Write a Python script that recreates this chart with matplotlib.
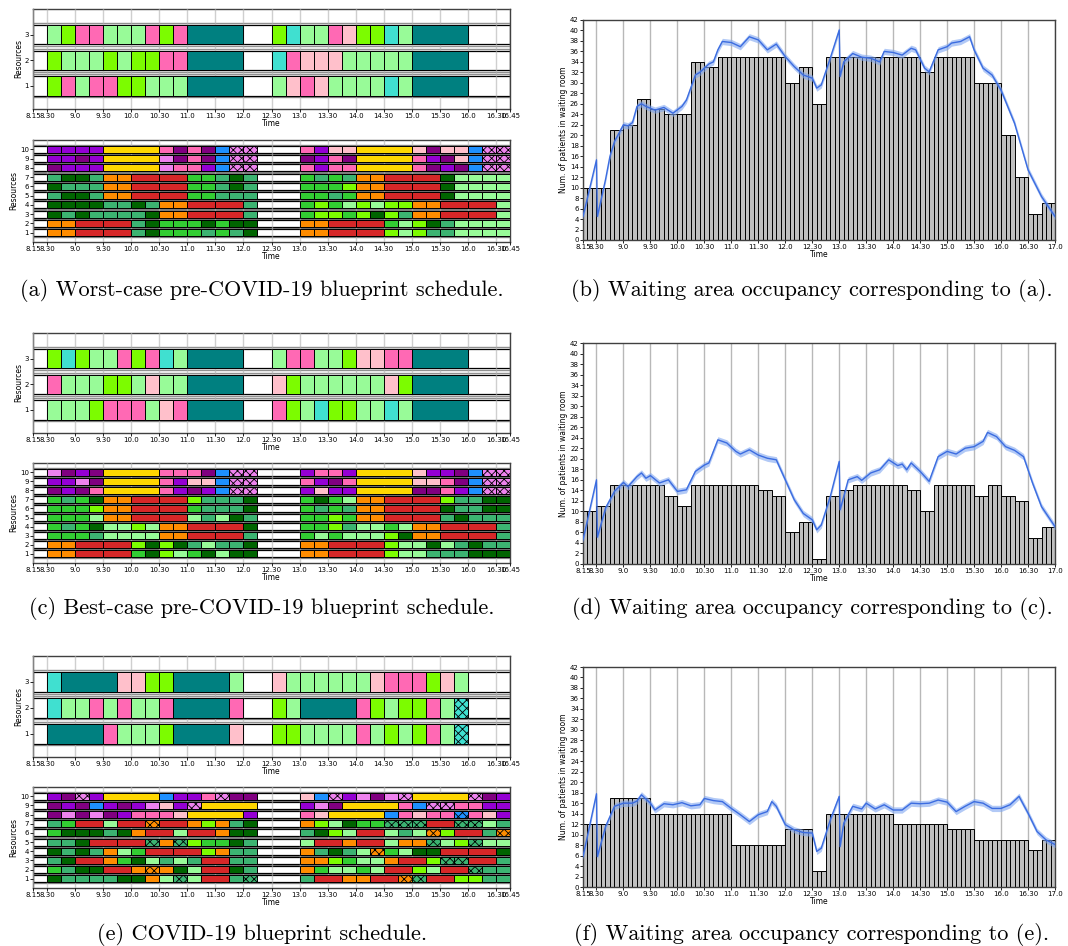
import numpy as np
import matplotlib
matplotlib.use("Agg")
import matplotlib.pyplot as plt

plt.rcParams['hatch.linewidth'] = 0.6

# colour codes used in the schedules (lower case = hatched)
COLORS = {
    'L': '#98fb98', 'W': '#7cfc00', 'H': '#ff69b4', 'P': '#ffc0cb',
    'T': '#40e0d0', 'E': '#008080', 'V': '#9400d3', 'U': '#800080',
    'Y': '#ffd700', 'I': '#ee82ee', 'B': '#1e90ff', 'S': '#3cb371',
    'D': '#006400', 'M': '#32cd32', 'O': '#ff8c00', 'R': '#d62728',
}

# ---- schedules: one string per resource (resource 1 first), 15 min cells from 8.30
worst_res = [
    "W H L H H W W L L L E4 -2 L P H P L L L L T L E4",
    "W L L L W L W W H H E4 -2 T H P P P L L L L L E4",
    "L W H H L L L H W H E4 -2 W T L L H P W W T L E4",
]
worst_staff = [
    "O O R2 R2 S D M M M S M S D -3 O O R2 R2 W L W S S L L L L",
    "O O R2 R2 S D M M M D M D D -3 O O R2 R2 M L W D S L L L L",
    "D S D S S S S D O O R2 R2 S -3 M W W M W D W S O O R2 R2 L",
    "D D D D S S D S O O R2 R2 S -3 M W M L W L W W O O R2 R2 L",
    "S D D S O O R2 R2 M M S S S -3 M M S M O O R2 R2 D L L L L",
    "D S S S O O R2 R2 M M S D S -3 M M M W O O R2 R2 D L L L L",
    "S D D S O O R2 R2 M M S D S -3 M S M S O O R2 R2 D L L L L",
    "U V V V Y4 I H H V B i i -3 H V H H Y4 H U V U B i i",
    "V V U V Y4 I U H U B i i -3 U V H U Y4 H V U P B i i",
    "V V V V Y4 H U H U B i i -3 H V P P Y4 P U P P B i i",
]
best_res = [
    "L L L W H H H L P H E4 -2 H W L T W W L L T L E4",
    "H L L L W W L P L L E4 -2 P W L L L L L L P W E4",
    "W T W L L H W H T L E4 -2 L H H L L W P P H H E4",
]
best_staff = [
    "O O R2 R2 M D W L M D L D D -3 O O R2 R2 W L L S S S D D D",
    "O O R2 R2 W D W D S L S S D -3 O O R2 R2 W L L D L S D S S",
    "M M M S L L L L O O R2 R2 S -3 M L M L L L W D O O R2 R2 S",
    "M S M D L L W L O O R2 R2 D -3 M M W S L L M L O O R2 R2 S",
    "M M M L O O R2 R2 L S L D S -3 M M W M O O R2 R2 S D S S S",
    "M M M W O O R2 R2 M S S S D -3 M S M S O O R2 R2 D S S D D",
    "M S M D O O R2 R2 W S S S D -3 M D M L O O R2 R2 W S S D D",
    "U V U H Y4 H V U V B i i -3 V P V V Y4 U U H V B i i",
    "V V I U Y4 H V P P B i i -3 H V U H Y4 P P H U B i i",
    "I U V U Y4 H H H U B i i -3 V H H V Y4 P V V U B i i",
]
covid_res = [
    "E4 H L L L W E4 P -2 W W L L L L H L W L W H L t",
    "T L L H L H L L H E4 H -2 W L E4 H W L W W H L t",
    "T E4 P P W W E4 L -2 P L L L L L L P H H H W P L",
]
covid_staff = [
    "D S S S S D D O L s L R2 S s -3 S R2 O O R2 o s R2 W W S S",
    "M S D D R2 O o O D L R2 D S -3 O M L L M L R2 W L R2 s S S",
    "S D R2 O M D L S L S R2 S S -3 O O W M L L O R2 W s s R2 S",
    "D S D S O L M R2 R2 W O S S -3 O S D S L o M L D D R2 R2 D",
    "S S D R2 R2 s O s W M M D S -3 L R2 O R2 L O O s L W s L L",
    "M D D D S D O R2 L R2 O D D -3 S D W L R2 L S L o W R2 S o",
    "S M R2 L R2 o R2 O W O S D -3 O W L D M M s s s R2 s s L S",
    "U I U I U V H H H P Y4 V -3 H P Y4 B H P H H b H P V",
    "U V U B V U V I P V i Y4 -3 V I U Y4 H B i i H H V V",
    "V U i V Y4 B V V H i U U -3 P B i V I U I i Y4 i U V",
]

# ---- waiting room occupancy, one value per quarter hour from 8.15 to 16.45
worst_occ = [10, 10, 21, 22, 27, 25, 24, 24, 34, 33, 35, 35, 35, 35, 35, 30, 33, 26,
             35, 35, 35, 35, 35, 35, 35, 32, 35, 35, 35, 30, 30, 20, 12, 5, 7]
best_occ = [10, 11, 15, 15, 15, 15, 13, 11, 15, 15, 15, 15, 15, 14, 13, 6, 8, 1,
            13, 14, 15, 15, 15, 15, 14, 10, 15, 15, 15, 13, 15, 13, 12, 5, 7]
covid_occ = [12, 12, 17, 17, 17, 14, 14, 14, 14, 14, 14, 8, 8, 8, 8, 11, 11, 3,
             14, 14, 14, 14, 14, 12, 12, 12, 12, 11, 11, 9, 9, 9, 9, 7, 9]

# simulated mean number in waiting room (minutes since midnight, value)
worst_t = [495, 510, 511, 520, 525, 530, 540, 545, 550, 555, 560, 565, 575, 585, 595, 605,
           610, 620, 625, 635, 640, 645, 650, 660, 670, 680, 690, 700, 710, 720, 730, 740,
           750, 755, 760, 770, 780, 781, 785, 795, 805, 815, 825, 830, 840, 850, 860, 865,
           875, 880, 890, 900, 905, 915, 925, 930, 940, 950, 960, 975, 990, 1005, 1020]
worst_sim = [4.5, 15.3, 4.5, 11.5, 16, 18.8, 22, 21.8, 22.4, 25.5, 26, 25.5, 24.8, 25.3, 24.2, 25.5,
             26.7, 31.5, 32, 33.6, 34, 36.3, 37.9, 37.7, 36.9, 38.8, 38.2, 36.3, 37.4, 35, 33.1, 31.5,
             30.9, 29, 29.6, 34.7, 40.1, 31.2, 34, 35.6, 34.9, 34.7, 34, 36, 35.8, 35.3, 36.6, 36.3,
             32.8, 32.1, 36.3, 36.9, 37.6, 37.9, 38.8, 36.3, 32.8, 31.5, 28.6, 22.3, 13.4, 8.3, 4.5]
best_t = [495, 510, 511, 520, 530, 540, 545, 555, 560, 565, 570, 580, 590, 600, 610, 620,
          630, 635, 645, 655, 665, 670, 680, 690, 700, 710, 720, 730, 740, 750, 755, 760,
          770, 780, 781, 790, 800, 805, 815, 825, 835, 845, 850, 855, 860, 870, 880, 890,
          900, 910, 920, 930, 940, 945, 955, 965, 975, 985, 995, 1005, 1020]
best_sim = [4.6, 16, 5.1, 10.6, 13.8, 15.5, 14.7, 16.6, 17.3, 16.3, 16.8, 15.4, 16, 13.8, 14.1, 17.6,
            18.8, 19.2, 23.6, 23, 21.4, 20.9, 21.7, 20.7, 20.1, 19.8, 16, 12.2, 9.6, 8.4, 6.5, 7.4,
            12.8, 19.5, 10.3, 16, 16.6, 15.9, 17.3, 17.9, 19.8, 18.7, 19, 17.9, 19.2, 17.6, 15.7, 20.4,
            21.4, 20.9, 22, 22.3, 23.3, 25, 24.2, 22.3, 21.6, 20.4, 15.4, 10.9, 7.1]
covid_t = [495, 510, 511, 520, 530, 540, 550, 555, 560, 570, 575, 585, 595, 605, 615, 625,
           630, 640, 650, 660, 670, 680, 690, 700, 705, 710, 720, 730, 740, 750, 755, 760,
           770, 780, 781, 785, 795, 805, 810, 820, 830, 840, 850, 860, 870, 880, 890, 900,
           910, 920, 930, 940, 950, 960, 970, 980, 990, 1000, 1010, 1020]
covid_sim = [5.8, 17.8, 5.8, 11.5, 15.4, 16, 16, 16.4, 17.6, 16, 14.7, 15.9, 15.7, 16.1, 15.5, 15.7,
             16.9, 16.5, 16.3, 15, 13.8, 12.5, 13.8, 14.4, 16.3, 15.4, 11.9, 10.9, 10.4, 10.3, 6.8, 7.4,
             12.8, 17.3, 7.7, 12.2, 15.4, 14.9, 16, 14.9, 15.7, 14.7, 14.7, 16, 15.9, 16, 16.6, 16.2,
             14.4, 15.4, 16.3, 16, 15, 15, 15.7, 17.3, 14.1, 10.6, 9, 8.1]

captions = [
    "(a) Worst-case pre-COVID-19 blueprint schedule.",
    "(b) Waiting area occupancy corresponding to (a).",
    "(c) Best-case pre-COVID-19 blueprint schedule.",
    "(d) Waiting area occupancy corresponding to (c).",
    "(e) COVID-19 blueprint schedule.",
    "(f) Waiting area occupancy corresponding to (e).",
]

W, H = 1068, 946
fig = plt.figure(figsize=(W / 100, H / 100), dpi=100)


def px_axes(x0, y0, x1, y1):
    return fig.add_axes([x0 / W, 1 - y1 / H, (x1 - x0) / W, (y1 - y0) / H])


def tlabel(m):
    h, mm = divmod(int(m), 60)
    return f"{h}.{mm}"


def style_frame(ax):
    for s in ax.spines.values():
        s.set_color('#404040')
        s.set_linewidth(1.0)
    ax.tick_params(labelsize=5, length=2, width=0.6, pad=1)


def gantt(ax, rows, ylim, cell_h, band_h):
    for k, spec in enumerate(rows):
        y = k + 1
        ax.barh(y, 510, left=495, height=band_h, color='white', edgecolor='#909090',
                linewidth=1.0, zorder=1)
        ax.barh(y, 510, left=495, height=cell_h, color='white', edgecolor='black',
                linewidth=0.9, zorder=2)
        t = 510
        for tok in spec.split():
            code, n = tok[0], int(tok[1:] or 1)
            if code != '-':
                hatch = None
                if code.islower():
                    hatch = 'xxxx'
                    code = code.upper()
                ax.barh(y, 15 * n, left=t, height=cell_h, color=COLORS[code],
                        edgecolor='black', linewidth=0.7, hatch=hatch, zorder=3)
            t += 15 * n
    ticks = [495] + list(range(510, 1006, 30)) + [1005]
    ax.set_xticks(ticks)
    ax.set_xticklabels([tlabel(m) for m in ticks])
    ax.set_xlim(495, 1005)
    ax.set_ylim(*ylim)
    ax.set_yticks(range(1, len(rows) + 1))
    ax.grid(axis='x', color='#b0b0b0', linewidth=1.0, alpha=0.6, zorder=5)
    ax.set_axisbelow(False)
    ax.set_xlabel('Time', fontsize=5.5, labelpad=0)
    ax.set_ylabel('Resources', fontsize=5.5, labelpad=1)
    style_frame(ax)


def occupancy(ax, occ, t, sim):
    vals = np.repeat(occ, 3)
    xs = 495 + 5 * np.arange(len(vals))
    ax.bar(xs, vals, width=5, align='edge', color='#c0c0c0', edgecolor='black',
           linewidth=0.7, zorder=2)
    sim = np.array(sim)
    ax.fill_between(t, sim - 0.6, sim + 0.6, color='#7fa6f0', alpha=0.6,
                    linewidth=0, zorder=3)
    ax.plot(t, sim, color='#3b6ce0', linewidth=1.0, zorder=4)
    ticks = [495] + list(range(510, 1021, 30))
    ax.set_xticks(ticks)
    ax.set_xticklabels([tlabel(m) for m in ticks])
    ax.set_xlim(495, 1020)
    ax.set_ylim(0, 42)
    ax.set_yticks(range(0, 43, 2))
    ax.grid(axis='x', color='#b8b8b8', linewidth=1.0)
    ax.set_axisbelow(True)
    ax.set_xlabel('Time', fontsize=5.5, labelpad=0)
    ax.set_ylabel('Num. of patients in waiting room', fontsize=5.5, labelpad=1)
    style_frame(ax)


panels = [
    (worst_res, worst_staff, worst_occ, worst_t, worst_sim, (9, 109), (140, 242), (20, 240)),
    (best_res, best_staff, best_occ, best_t, best_sim, (333, 433), (463, 563), (343, 564)),
    (covid_res, covid_staff, covid_occ, covid_t, covid_sim, (656, 757), (787, 888), (667, 887)),
]
cap_y = [290, 608, 934]

for i, (res, staff, occ, t, sim, ytop, ybot, yocc) in enumerate(panels):
    ax1 = px_axes(33, ytop[0], 510, ytop[1])
    gantt(ax1, res, (0.1, 4.0), 0.76, 0.9)
    ax2 = px_axes(33, ybot[0], 510, ybot[1])
    gantt(ax2, staff, (0.0, 11.0), 0.76, 0.95)
    ax3 = px_axes(583, yocc[0], 1055, yocc[1])
    occupancy(ax3, occ, t, sim)
    fig.text(262 / W, 1 - cap_y[i] / H, captions[2 * i], ha='center', va='center',
             fontfamily='cmr10', fontsize=16)
    fig.text(812 / W, 1 - cap_y[i] / H, captions[2 * i + 1], ha='center', va='center',
             fontfamily='cmr10', fontsize=16)

fig.savefig('out.png', dpi=100)
